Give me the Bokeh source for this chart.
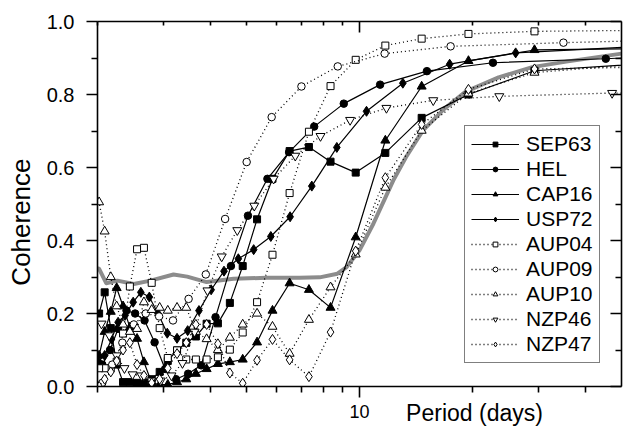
import math
from bokeh.plotting import figure
from bokeh.models import FixedTicker, LogAxis, LinearAxis, NumeralTickFormatter
from bokeh.embed import file_html
from bokeh.resources import INLINE

# ---------------- data ----------------
X_MIN, X_MAX = 2.0, 50.0
X_MINOR = [2, 3, 4, 5, 6, 7, 8, 9, 20, 30, 40]
X_MAJOR = [10]
Y_MAJOR = [0.0, 0.2, 0.4, 0.6, 0.8, 1.0]
Y_MINOR = [0.1, 0.3, 0.5, 0.7, 0.9]

# periods (days) shared by SEP63, CAP16, AUP04, AUP10, NZP47
P_A = [58.6, 29.3, 19.53, 14.65, 11.72, 9.77, 8.37, 7.33, 6.51, 5.86, 5.33, 4.88, 4.51,
       4.19, 3.91, 3.66, 3.45, 3.26, 3.08, 2.93, 2.79, 2.66, 2.55, 2.44, 2.34, 2.25,
       2.17, 2.09, 2.02]
SEP63 = [0.885, 0.865, 0.80, 0.736, 0.640, 0.586, 0.616, 0.656, 0.645, 0.569, 0.458, 0.330,
         0.229, 0.173, 0.172, 0.137, 0.12, 0.099, 0.07, 0.04, 0.02, 0.01, 0.01, 0.012,
         0.012, 0.06, 0.16, 0.258, 0.2]
CAP16 = [0.926, 0.922, 0.892, 0.822, 0.674, 0.409, 0.216, 0.265, 0.283, 0.208, 0.121, 0.074,
         0.067, 0.062, 0.048, 0.035, 0.02, 0.012, 0.005, 0.005, 0.01, 0.067, 0.131, 0.162,
         0.22, 0.27, 0.205, 0.15, 0.085]
AUP04 = [0.976, 0.973, 0.966, 0.953, 0.934, 0.895, 0.823, 0.698, 0.530, 0.361, 0.231, 0.148,
         0.101, 0.080, 0.074, 0.074, 0.074, 0.099, 0.078, 0.16, 0.284, 0.38, 0.376, 0.274,
         0.145, 0.068, 0.05, 0.05, 0.05]
AUP10 = [0.885, 0.860, 0.803, 0.701, 0.545, 0.362, 0.272, 0.183, 0.09, 0.164, 0.20, 0.17,
         0.134, 0.10, 0.13, 0.15, 0.216, 0.216, 0.208, 0.216, 0.21, 0.231, 0.158, 0.15,
         0.17, 0.22, 0.30, 0.425, 0.505]
NZP47 = [0.875, 0.870, 0.814, 0.718, 0.572, 0.371, 0.149, 0.027, 0.073, 0.129, 0.072, 0.009,
         0.037, 0.117, 0.17, 0.17, 0.12, 0.09, 0.05, 0.02, 0.01, 0.03, 0.06, 0.12, 0.10,
         0.07, 0.04, 0.02, 0.0]

HEL_P = [45.4, 22.7, 15.13, 11.35, 9.08, 7.57, 6.49, 5.68, 5.04, 4.54, 4.13, 3.78, 3.49,
         3.24, 3.03, 2.84, 2.67, 2.52, 2.39, 2.27, 2.16, 2.06]
HEL = [0.898, 0.887, 0.864, 0.827, 0.775, 0.712, 0.642, 0.569, 0.468, 0.33, 0.19, 0.058,
       0.035, 0.02, 0.048, 0.121, 0.181, 0.2, 0.208, 0.158, 0.1, 0.06]
HEL_EDGE = 0.900

USP72_P = [52.2, 26.1, 17.4, 13.05, 10.44, 8.7, 7.46, 6.53, 5.8, 5.22, 4.75, 4.35, 4.02,
           3.73, 3.48, 3.26, 3.07, 2.9, 2.75, 2.61, 2.49, 2.37, 2.27, 2.18, 2.09, 2.01]
USP72 = [0.93, 0.914, 0.883, 0.831, 0.754, 0.655, 0.549, 0.465, 0.411, 0.375, 0.350, 0.316,
         0.265, 0.208, 0.153, 0.132, 0.146, 0.2, 0.245, 0.258, 0.231, 0.195, 0.176, 0.13,
         0.085, 0.07]

AUP09_P = [35.0, 17.5, 11.67, 8.75, 7.0, 5.83, 5.0, 4.38, 3.89, 3.5, 3.18, 2.92, 2.69, 2.5,
           2.33, 2.19, 2.06]
AUP09 = [0.942, 0.932, 0.912, 0.877, 0.822, 0.738, 0.615, 0.459, 0.307, 0.24, 0.181, 0.192,
         0.2, 0.17, 0.12, 0.06, 0.01]
AUP09_EDGE = 0.946

NZP46_P = [47.2, 23.6, 15.73, 11.8, 9.44, 7.87, 6.74, 5.9, 5.24, 4.72, 4.29, 3.93, 3.63,
           3.37, 3.15, 2.95, 2.78, 2.62, 2.48, 2.36, 2.25, 2.15, 2.05]
NZP46 = [0.804, 0.795, 0.784, 0.763, 0.730, 0.686, 0.632, 0.569, 0.495, 0.428, 0.356, 0.263,
         0.15, 0.064, 0.03, 0.016, 0.016, 0.03, 0.033, 0.05, 0.085, 0.14, 0.172]
NZP46_EDGE = 0.804

GRAY_P = [2.0, 2.02, 2.11, 2.26, 2.50, 2.77, 3.19, 3.47, 3.91, 4.61, 5.65, 6.92, 7.83, 8.73,
          9.24, 10.0, 10.89, 12.3, 13.3, 14.75, 16.8, 19.2, 23.5, 28.9, 35.6, 50.0]
GRAY_C = [0.325, 0.322, 0.283, 0.29, 0.281, 0.29, 0.307, 0.301, 0.286, 0.295, 0.298, 0.298,
          0.299, 0.309, 0.327, 0.373, 0.446, 0.564, 0.628, 0.701, 0.76, 0.808, 0.847, 0.875,
          0.89, 0.912]

X_TITLE = "Period (days)"
Y_TITLE = "Coherence"
FONT = "Liberation Sans"
NB = "\u00a0"

# ---------------- figure ----------------
p = figure(frame_width=524, frame_height=365, x_axis_type="log",
           x_range=(X_MIN, X_MAX), y_range=(0, 1),
           output_backend="svg", toolbar_location=None,
           min_border_left=97, min_border_right=2, min_border_top=21, min_border_bottom=44,
           background_fill_color="white", border_fill_color="white",
           outline_line_color=None)
p.xgrid.visible = False
p.ygrid.visible = False

AX_W = 1.6


def style_axis(a, tin, tout, minin, minout, labels):
    a.axis_line_width = AX_W
    a.major_tick_line_width = AX_W
    a.minor_tick_line_width = AX_W
    a.major_tick_in = tin
    a.major_tick_out = tout
    a.minor_tick_in = minin
    a.minor_tick_out = minout
    if not labels:
        a.major_label_text_font_size = "1px"
        a.major_label_text_color = None
        a.major_label_standoff = 0


# bottom axis
for a in p.xaxis:
    a.ticker = FixedTicker(ticks=X_MAJOR, minor_ticks=X_MINOR)
    a.formatter = NumeralTickFormatter(format="0")
    style_axis(a, 0, 11, 0, 6, True)
    a.major_label_text_font = FONT
    a.major_label_text_font_size = "18px"
    a.major_label_text_color = "black"
    a.major_label_standoff = 7
    a.axis_label = NB * 36 + X_TITLE
    a.axis_label_text_font = FONT
    a.axis_label_text_font_size = "23px"
    a.axis_label_text_font_style = "normal"
    a.axis_label_text_color = "black"
    a.axis_label_standoff = -21

# left axis
for a in p.yaxis:
    a.ticker = FixedTicker(ticks=Y_MAJOR, minor_ticks=Y_MINOR)
    a.formatter = NumeralTickFormatter(format="0.0")
    style_axis(a, 0, 11, 0, 6, True)
    a.major_label_text_font = FONT
    a.major_label_text_font_size = "20px"
    a.major_label_text_color = "black"
    a.major_label_standoff = 12
    a.axis_label = Y_TITLE + NB * 5
    a.axis_label_text_font = FONT
    a.axis_label_text_font_size = "26px"
    a.axis_label_text_font_style = "normal"
    a.axis_label_text_color = "black"
    a.axis_label_standoff = 8

# mirror axes (ticks pointing into the frame, no labels)
top = LogAxis(ticker=FixedTicker(ticks=X_MAJOR, minor_ticks=X_MINOR))
style_axis(top, 11, 0, 4, 0, False)
p.add_layout(top, "above")
right = LinearAxis(ticker=FixedTicker(ticks=Y_MAJOR, minor_ticks=Y_MINOR))
style_axis(right, 11, 0, 6, 0, False)
p.add_layout(right, "right")

# gray model curve
p.line(GRAY_P, GRAY_C, line_color="#8c8c8c", line_width=4, line_join="round")

DOT = "1 3"
MS = {"square": 7, "circle": 7.5, "triangle": 9, "inverted_triangle": 9, "diamond": 10}


def series(xs, ys, name, marker, filled, dashed, lx=None, ly=None):
    lxs = (lx if lx is not None else []) + xs
    lys = (ly if ly is not None else []) + ys
    if dashed:
        p.line(lxs, lys, line_color="black", line_width=1.3, line_dash=DOT,
               legend_label=name)
    else:
        p.line(lxs, lys, line_color="black", line_width=1.2, legend_label=name)
    fill = "black" if filled else "white"
    p.scatter(xs, ys, marker=marker, size=MS[marker], fill_color=fill,
              line_color="black", line_width=1, legend_label=name)


series(P_A, SEP63, "SEP63", "square", True, False)
series(HEL_P, HEL, "HEL", "circle", True, False, [X_MAX], [HEL_EDGE])
series(P_A, CAP16, "CAP16", "triangle", True, False)
series(USP72_P, USP72, "USP72", "diamond", True, False)
series(P_A, AUP04, "AUP04", "square", False, True)
series(AUP09_P, AUP09, "AUP09", "circle", False, True, [X_MAX], [AUP09_EDGE])
series(P_A, AUP10, "AUP10", "triangle", False, True)
series(NZP46_P, NZP46, "NZP46", "inverted_triangle", False, True, [X_MAX], [NZP46_EDGE])
series(P_A, NZP47, "NZP47", "diamond", False, True)

# legend
leg = p.legend[0]
leg.location = (367, 23)
leg.border_line_color = "black"
leg.border_line_width = 1.2
leg.background_fill_color = "white"
leg.background_fill_alpha = 1.0
leg.label_text_font = FONT
leg.label_text_font_size = "21px"
leg.label_text_color = "black"
leg.glyph_width = 48
leg.glyph_height = 12
leg.label_height = 20
leg.spacing = 1
leg.padding = 6
leg.margin = 0
leg.label_standoff = 7

open("out.html", "w").write(file_html(p, INLINE))
